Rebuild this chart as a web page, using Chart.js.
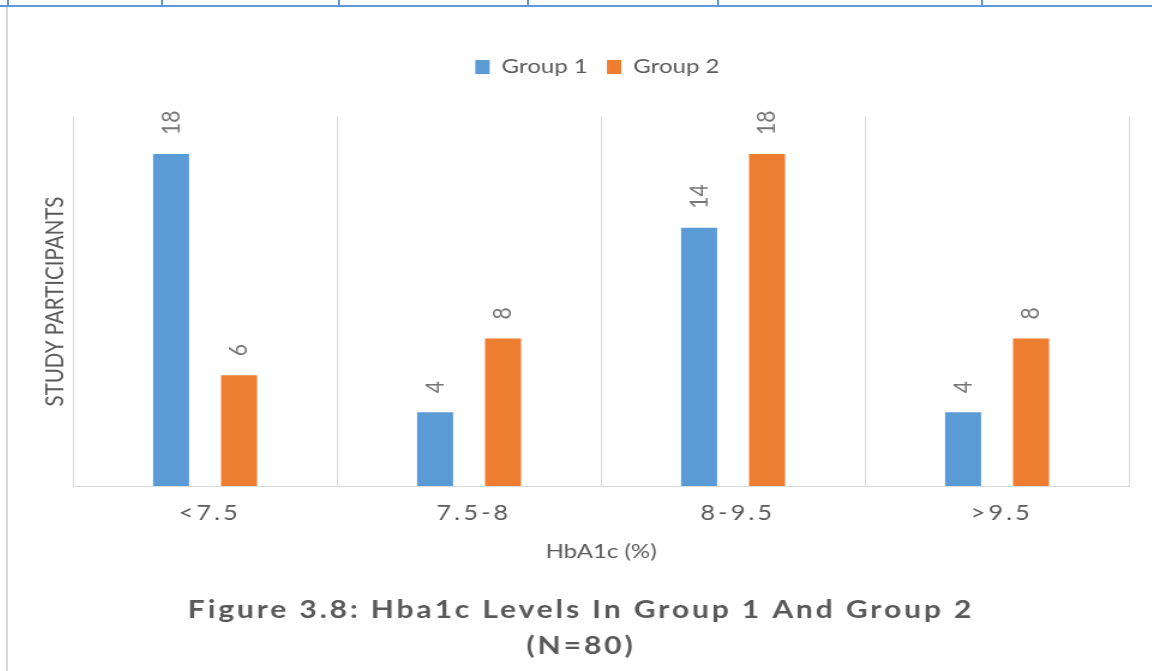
<!DOCTYPE html>
<html>
<head>
<meta charset="utf-8">
<title>HbA1c levels by group</title>
<script src="https://cdn.jsdelivr.net/npm/chart.js@4.4.1/dist/chart.umd.min.js"></script>
<style>
  html, body { margin: 0; padding: 0; width: 1152px; height: 671px; overflow: hidden; background: #ffffff; }
  .rule { position: absolute; background: #5b9bd5; }
  #frame { position: absolute; left: 6px; top: 7px; width: 2px; height: 664px; background: #d9d9d9; }
  /* the chart is drawn narrow and widened horizontally */
  #stage { position: absolute; left: 20px; top: 0; width: 955px; height: 671px;
           transform: scaleX(1.2); transform-origin: 0 0; }
  #chart { display: block; width: 955px; height: 671px; }
</style>
</head>
<body>
<!-- table row edges above the figure -->
<div class="rule" style="left:0; top:5px; width:1152px; height:2px"></div>
<div class="rule" style="left:7px; top:0; width:2px; height:6px"></div>
<div class="rule" style="left:161px; top:0; width:2px; height:6px"></div>
<div class="rule" style="left:338px; top:0; width:2px; height:6px"></div>
<div class="rule" style="left:527px; top:0; width:2px; height:6px"></div>
<div class="rule" style="left:717px; top:0; width:2px; height:6px"></div>
<div class="rule" style="left:981px; top:0; width:2px; height:6px"></div>
<div id="frame"></div>

<div id="stage"><canvas id="chart" width="955" height="671"></canvas></div>

<script>
// HbA1c bands on the x axis
const categories = ['<7.5', '7.5-8', '8-9.5', '>9.5'];
// participants per band
const group1 = [18, 4, 14, 4];
const group2 = [6, 8, 18, 8];
const seriesNames = ['Group 1', 'Group 2'];
const yMin = 0;
const yMax = 20;
const xTitle = 'HbA1c (%)';
const yTitle = 'STUDY PARTICIPANTS';
const captionLines = ['Figure 3.8: Hba1c Levels In Group 1 And Group 2', '(N=80)'];

const BLUE = '#5b9bd5';
const ORANGE = '#ed7d31';
const TEXT = '#595959';
const LABEL = '#767676';
const GRID = '#d9d9d9';
const FONT = 'Lato, "Open Sans", sans-serif';

// rotated value labels sitting above each bar
const valueLabels = {
  id: 'valueLabels',
  afterDatasetsDraw(chart) {
    const ctx = chart.ctx;
    chart.data.datasets.forEach((ds, i) => {
      const meta = chart.getDatasetMeta(i);
      meta.data.forEach((bar, j) => {
        ctx.save();
        ctx.translate(bar.x, bar.y - 19);
        ctx.rotate(-Math.PI / 2);
        ctx.font = '21px ' + FONT;
        ctx.fillStyle = LABEL;
        ctx.textAlign = 'left';
        ctx.textBaseline = 'middle';
        ctx.fillText(String(ds.data[j]), 0, 0);
        ctx.restore();
      });
    });
  }
};

// letter-spaced category labels and the figure caption
const spacedText = {
  id: 'spacedText',
  afterDraw(chart) {
    const ctx = chart.ctx;
    const xs = chart.scales.x;
    const area = chart.chartArea;
    ctx.save();
    ctx.fillStyle = TEXT;
    ctx.textAlign = 'center';
    ctx.textBaseline = 'middle';
    ctx.font = '21px ' + FONT;
    ctx.letterSpacing = '2.6px';
    categories.forEach((c, i) => {
      ctx.fillText(c, xs.getPixelForTick(i) + 4, area.bottom + 27);
    });
    ctx.font = 'bold 25px ' + FONT;
    ctx.letterSpacing = '2.4px';
    const cx = chart.width / 2 - 10;
    captionLines.forEach((line, k) => {
      ctx.fillText(line, cx, 610 + k * 36);
    });
    ctx.restore();
  }
};

// keep the legend row up near the top and centred over the figure
const legendPlacement = {
  id: 'legendPlacement',
  afterLayout(chart) {
    const lg = chart.legend;
    if (!lg) return;
    const dy = 41 - lg.top;
    const dx = 19;
    lg.top += dy;
    lg.bottom += dy;
    lg.left += dx;
    lg.right += dx;
  }
};

new Chart(document.getElementById('chart'), {
  type: 'bar',
  data: {
    labels: categories,
    datasets: [
      { label: seriesNames[0], data: group1, backgroundColor: BLUE, borderWidth: 0 },
      { label: seriesNames[1], data: group2, backgroundColor: ORANGE, borderWidth: 0 }
    ]
  },
  options: {
    responsive: false,
    animation: false,
    devicePixelRatio: 1,
    categoryPercentage: 0.515,
    barPercentage: 0.53,
    layout: { padding: { top: 71, left: 0, right: 30.8, bottom: 0 } },
    plugins: {
      tooltip: { enabled: false },
      title: { display: false },
      legend: {
        position: 'top',
        labels: {
          color: TEXT,
          font: { family: FONT, size: 20 },
          boxWidth: 12,
          boxHeight: 14,
          padding: 16
        }
      }
    },
    scales: {
      x: {
        grid: { display: true, color: GRID, lineWidth: 1, drawTicks: false, offset: true },
        border: { display: true, color: GRID, width: 1 },
        ticks: { display: false },
        title: {
          display: true, text: xTitle, color: TEXT,
          font: { family: FONT, size: 20 },
          padding: { top: 0, bottom: 107 }
        },
        afterFit(scale) { scale.height = 185; }
      },
      y: {
        min: yMin,
        max: yMax,
        grid: { display: false, drawTicks: false },
        border: { display: true, color: GRID, width: 1 },
        ticks: { display: false },
        title: {
          display: true, text: yTitle, color: TEXT,
          font: { family: FONT, size: 20.5 },
          padding: { top: 17.5, bottom: 0 }
        },
        afterFit(scale) { scale.width = 44.2; }
      }
    }
  },
  plugins: [valueLabels, spacedText, legendPlacement]
});
</script>
</body>
</html>
